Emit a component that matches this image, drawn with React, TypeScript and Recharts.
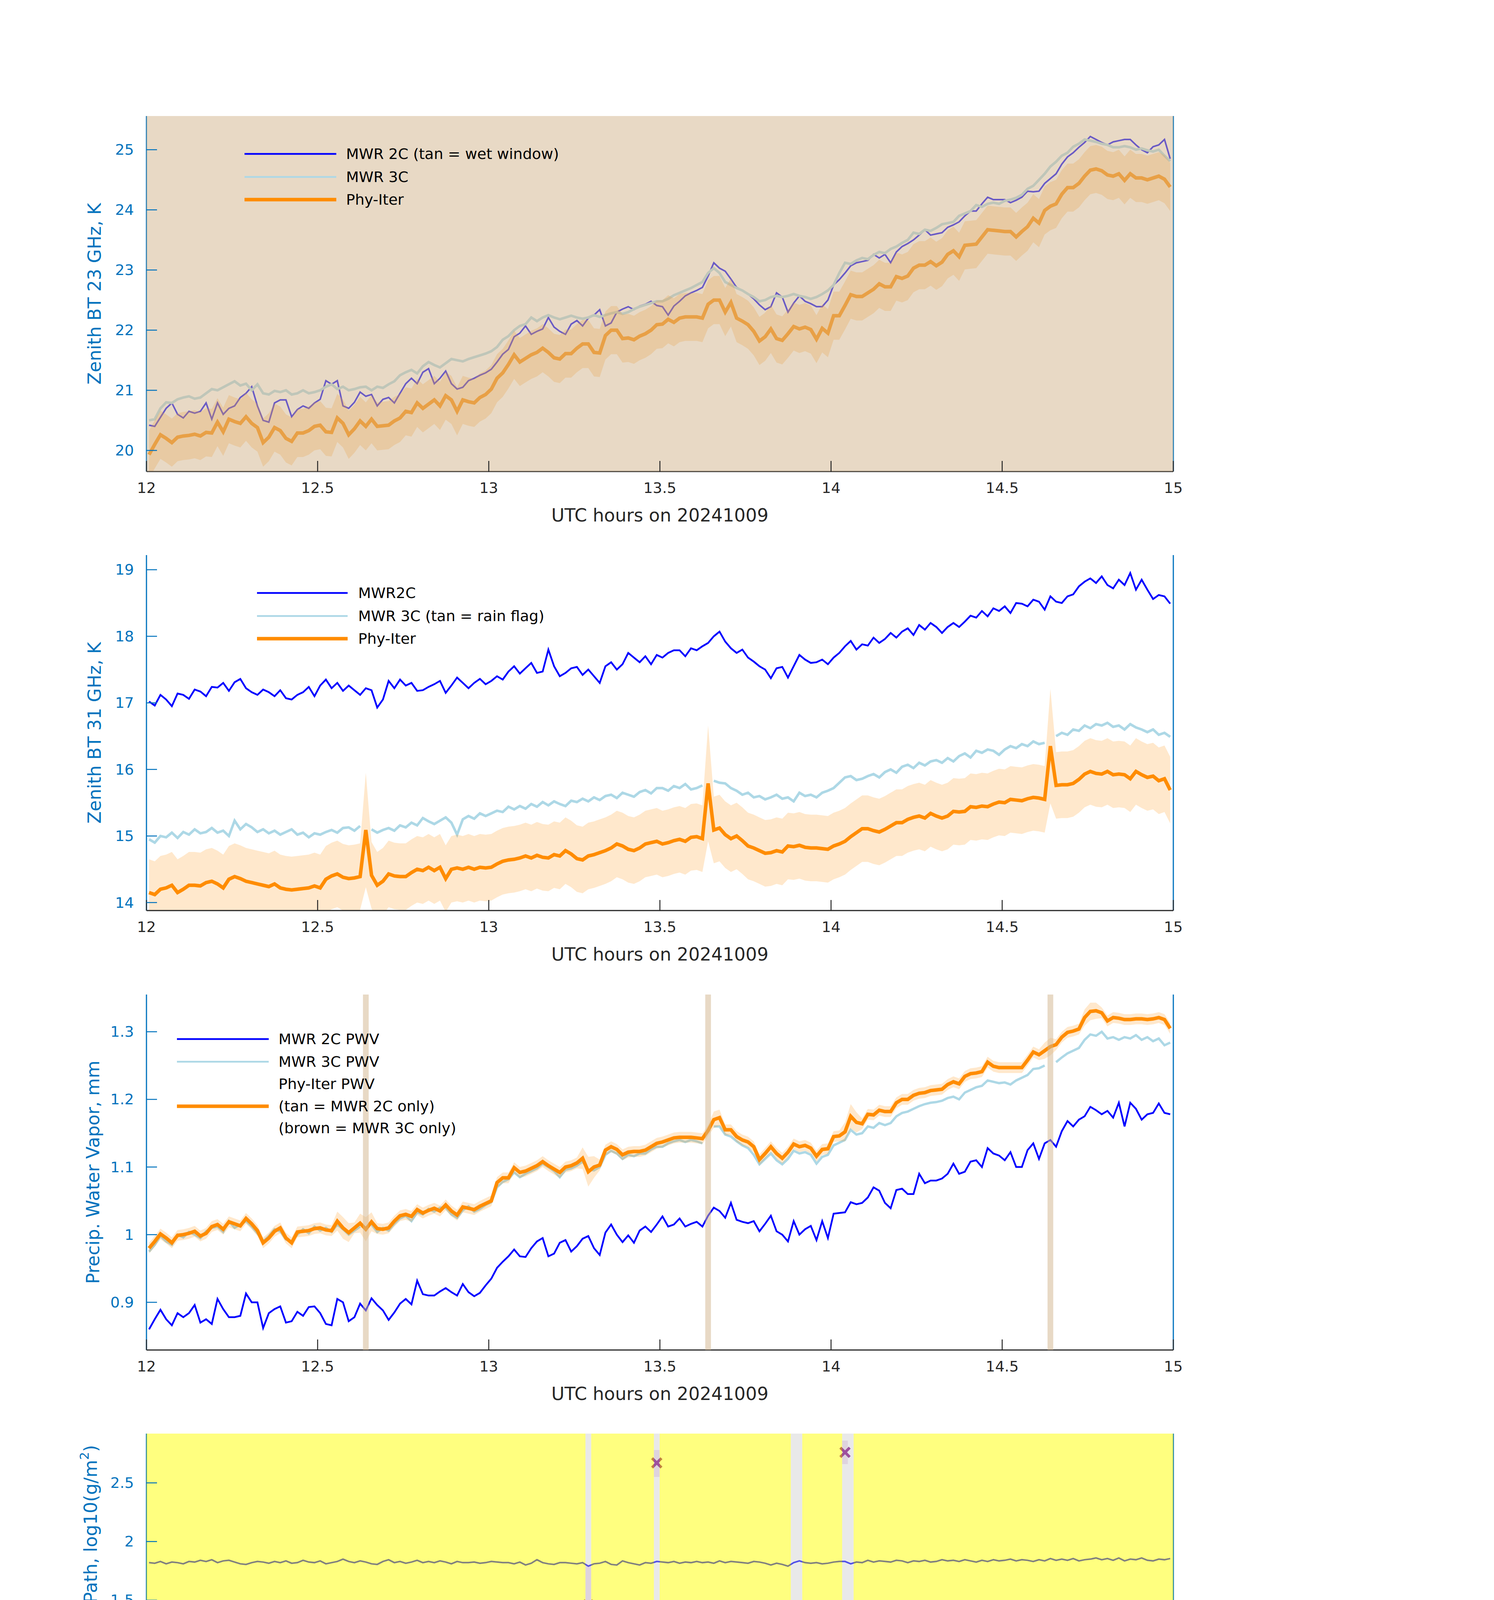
import React from "react";
import {
  Area,
  ComposedChart,
  Line,
  ReferenceArea,
  ReferenceLine,
  Scatter,
  XAxis,
  YAxis,
} from "recharts";

// one sample per minute, 12:00 to 15:00 UTC
const sampleHours = Array.from({ length: 180 }, (_, k) => 12 + (k + 0.45) / 60);
const timeTicks = [12, 12.5, 13, 13.5, 14, 14.5, 15];

// panel 1: zenith BT 23 GHz (K)
const p1Mwr2c = [
  20.42, 20.4, 20.55, 20.7, 20.79, 20.6, 20.54, 20.65, 20.62, 20.65,
  20.79, 20.52, 20.79, 20.6, 20.7, 20.74, 20.88, 20.95, 21.06, 20.74,
  20.5, 20.47, 20.79, 20.84, 20.84, 20.56, 20.68, 20.74, 20.7, 20.79,
  20.85, 21.16, 21.1, 21.16, 20.74, 20.7, 20.8, 20.97, 20.9, 20.93,
  20.74, 20.85, 20.88, 20.79, 20.95, 21.11, 21.2, 21.11, 21.3, 21.36,
  21.11, 21.2, 21.32, 21.11, 21.02, 21.05, 21.16, 21.2, 21.25, 21.29,
  21.35, 21.47, 21.6, 21.68, 21.89, 21.95, 22.07, 21.93, 21.98, 22.02,
  22.21, 22.05, 21.98, 21.93, 22.1, 22.16, 22.07, 22.2, 22.25, 22.34,
  22.07, 22.12, 22.3, 22.35, 22.39, 22.34, 22.4, 22.43, 22.48, 22.41,
  22.39, 22.25, 22.4, 22.48, 22.57, 22.62, 22.66, 22.71, 22.9, 23.12,
  23.03, 22.98, 22.85, 22.71, 22.66, 22.6, 22.52, 22.42, 22.34, 22.39,
  22.62, 22.55, 22.3, 22.45, 22.57, 22.48, 22.44, 22.39, 22.39, 22.5,
  22.75, 22.84, 22.95, 23.07, 23.12, 23.14, 23.16, 23.26, 23.2, 23.26,
  23.12, 23.3, 23.39, 23.44, 23.5, 23.58, 23.67, 23.58, 23.6, 23.62,
  23.71, 23.75, 23.8, 23.9, 23.98, 23.98, 24.1, 24.21, 24.17, 24.17,
  24.17, 24.12, 24.16, 24.21, 24.31, 24.3, 24.31, 24.44, 24.52, 24.6,
  24.76, 24.88, 24.95, 25.04, 25.12, 25.22, 25.17, 25.12, 25.08, 25.13,
  25.15, 25.17, 25.17, 25.08, 25.0, 24.95, 25.05, 25.08, 25.17, 24.85,
];
const p1Mwr3c = [
  20.5, 20.52, 20.7, 20.8, 20.79, 20.85, 20.88, 20.9, 20.86, 20.88,
  20.95, 21.02, 21.0, 21.05, 21.1, 21.15, 21.08, 21.11, 21.0, 21.1,
  20.95, 20.93, 20.99, 20.97, 21.0, 20.93, 20.95, 21.0, 20.95, 20.97,
  21.0, 21.06, 21.1, 21.02, 21.06, 21.0, 21.02, 21.05, 21.06, 21.0,
  21.06, 21.04, 21.1, 21.15, 21.25, 21.3, 21.34, 21.28, 21.4, 21.47,
  21.42, 21.38, 21.45, 21.52, 21.5, 21.48, 21.52, 21.55, 21.58, 21.61,
  21.65, 21.72, 21.84, 21.9, 22.0, 22.07, 22.1, 22.21, 22.15, 22.21,
  22.25, 22.21, 22.18, 22.21, 22.24, 22.21, 22.19, 22.21, 22.25, 22.22,
  22.25, 22.28, 22.3, 22.27, 22.3, 22.35, 22.39, 22.42, 22.45, 22.48,
  22.48, 22.52, 22.58, 22.62, 22.66, 22.7, 22.75, 22.8, 22.95, 23.03,
  22.95, 22.8, 22.75, 22.7, 22.66, 22.6, 22.55, 22.48, 22.5, 22.55,
  22.57, 22.55, 22.57, 22.6, 22.57, 22.55, 22.52, 22.55, 22.6, 22.66,
  22.75, 22.95, 23.12, 23.1, 23.16, 23.2, 23.18, 23.25, 23.3, 23.28,
  23.35, 23.39, 23.45, 23.5, 23.62, 23.6, 23.67, 23.65, 23.7, 23.76,
  23.78, 23.8, 23.9, 23.94, 23.98, 24.08, 24.05, 24.1, 24.12, 24.1,
  24.15, 24.17, 24.2, 24.25, 24.35, 24.4, 24.5, 24.6, 24.72, 24.8,
  24.9, 24.95, 25.05, 25.1, 25.17, 25.15, 25.13, 25.1, 25.08, 25.04,
  25.04, 25.06, 25.04, 25.0, 25.02, 24.99, 24.97, 25.0, 24.9, 24.81,
];
const p1Phy = [
  19.93, 20.1, 20.26, 20.2, 20.13, 20.22, 20.24, 20.25, 20.27, 20.24,
  20.3, 20.29, 20.47, 20.31, 20.52, 20.48, 20.45, 20.56, 20.45, 20.38,
  20.13, 20.22, 20.38, 20.33, 20.2, 20.15, 20.29, 20.29, 20.33, 20.4,
  20.42, 20.31, 20.3, 20.54, 20.45, 20.26, 20.36, 20.49, 20.4, 20.52,
  20.4, 20.41, 20.42, 20.49, 20.54, 20.65, 20.63, 20.79, 20.7, 20.77,
  20.84, 20.74, 20.91, 20.84, 20.65, 20.84, 20.81, 20.79, 20.88, 20.93,
  21.02, 21.2, 21.29, 21.43, 21.59, 21.47, 21.53, 21.59, 21.63, 21.7,
  21.63, 21.54, 21.52, 21.61, 21.61, 21.7, 21.77, 21.77, 21.63, 21.62,
  21.91, 22.0, 22.0, 21.86, 21.87, 21.84, 21.9, 21.94, 22.0, 22.09,
  22.1, 22.18, 22.13, 22.2, 22.22, 22.22, 22.22, 22.2, 22.43, 22.5,
  22.5, 22.3, 22.46, 22.2, 22.15, 22.09, 21.98, 21.82, 21.89, 22.02,
  21.86, 21.83, 21.94, 22.06, 22.02, 22.05, 22.01, 21.85, 22.03, 21.95,
  22.24, 22.24, 22.41, 22.59, 22.56, 22.56, 22.62, 22.68, 22.77, 22.72,
  22.72, 22.89, 22.86, 22.9, 23.03, 23.08, 23.08, 23.14, 23.07, 23.13,
  23.26, 23.32, 23.22, 23.41, 23.42, 23.43, 23.55, 23.67, 23.66, 23.65,
  23.64, 23.64, 23.55, 23.64, 23.72, 23.86, 23.78, 23.99, 24.06, 24.1,
  24.26, 24.37, 24.37, 24.44, 24.56, 24.66, 24.68, 24.65, 24.58, 24.56,
  24.6, 24.49, 24.6, 24.53, 24.53, 24.5, 24.53, 24.56, 24.51, 24.38,
];
const p1Spread = 0.4;
const wetWindow: [number, number] = [12, 15];

// panel 2: zenith BT 31 GHz (K)
const p2Mwr2c = [
  17.02, 16.96, 17.12, 17.05, 16.95, 17.14, 17.12, 17.06, 17.2, 17.17,
  17.1, 17.24, 17.23, 17.3, 17.18, 17.31, 17.36, 17.22, 17.16, 17.12,
  17.2, 17.16, 17.1, 17.19, 17.07, 17.05, 17.12, 17.16, 17.24, 17.1,
  17.26, 17.35, 17.22, 17.3, 17.18, 17.26, 17.19, 17.12, 17.22, 17.19,
  16.93, 17.05, 17.33, 17.22, 17.35, 17.26, 17.3, 17.18, 17.19, 17.24,
  17.28, 17.33, 17.15, 17.26, 17.38, 17.3, 17.22, 17.3, 17.36, 17.28,
  17.33, 17.4, 17.35, 17.47, 17.55, 17.44, 17.52, 17.6, 17.45, 17.47,
  17.8, 17.55, 17.4, 17.45, 17.52, 17.54, 17.42, 17.5, 17.4, 17.3,
  17.55, 17.61, 17.5, 17.58, 17.75, 17.68, 17.61, 17.7, 17.58, 17.72,
  17.68, 17.75, 17.79, 17.79, 17.7, 17.82, 17.79, 17.85, 17.9, 18.0,
  18.07, 17.92, 17.82, 17.75, 17.8, 17.68, 17.62, 17.55, 17.5, 17.37,
  17.52, 17.54, 17.38, 17.55, 17.72, 17.65, 17.6, 17.61, 17.65, 17.58,
  17.68, 17.75, 17.85, 17.93, 17.8, 17.88, 17.86, 17.98, 17.9, 17.96,
  18.05, 17.98, 18.07, 18.12, 18.02, 18.17, 18.1, 18.2, 18.14, 18.05,
  18.14, 18.2, 18.14, 18.22, 18.31, 18.28, 18.38, 18.3, 18.42, 18.38,
  18.45, 18.35, 18.5, 18.49, 18.45, 18.55, 18.52, 18.4, 18.6, 18.52,
  18.5, 18.6, 18.63, 18.75, 18.82, 18.87, 18.8, 18.9, 18.77, 18.72,
  18.85, 18.77, 18.95, 18.7, 18.85, 18.7, 18.56, 18.62, 18.6, 18.49,
];
const p2Mwr3c: (number | null)[] = [
  14.95, 14.9, 15.0, 14.98, 15.05, 14.97, 15.06, 15.02, 15.1, 15.04,
  15.06, 15.12, 15.05, 15.08, 15.0, 15.23, 15.1, 15.18, 15.13, 15.06,
  15.1, 15.04, 15.08, 15.02, 15.06, 15.1, 15.02, 15.05, 14.98, 15.04,
  15.02, 15.06, 15.09, 15.05, 15.12, 15.13, 15.08, 15.15, null, 15.1,
  15.05, 15.09, 15.12, 15.08, 15.16, 15.13, 15.2, 15.16, 15.27, 15.22,
  15.18, 15.23, 15.28, 15.2, 15.02, 15.25, 15.3, 15.26, 15.34, 15.3,
  15.34, 15.38, 15.36, 15.44, 15.4, 15.45, 15.41, 15.48, 15.44, 15.51,
  15.46, 15.52, 15.48, 15.45, 15.53, 15.51, 15.56, 15.52, 15.58, 15.54,
  15.6, 15.62, 15.57, 15.65, 15.62, 15.59, 15.66, 15.69, 15.64, 15.72,
  15.72, 15.68, 15.75, 15.72, 15.78, 15.7, 15.72, 15.76, null, 15.83,
  15.8, 15.79, 15.72, 15.68, 15.62, 15.65, 15.58, 15.6, 15.55, 15.58,
  15.62, 15.56, 15.58, 15.52, 15.65, 15.6, 15.62, 15.58, 15.65, 15.68,
  15.72, 15.8, 15.88, 15.9, 15.84, 15.86, 15.9, 15.93, 15.88, 15.96,
  16.0, 15.95, 16.04, 16.07, 16.02, 16.1, 16.06, 16.12, 16.14, 16.1,
  16.17, 16.12, 16.2, 16.24, 16.18, 16.28, 16.25, 16.3, 16.28, 16.22,
  16.3, 16.35, 16.32, 16.38, 16.35, 16.42, 16.38, 16.4, null, 16.5,
  16.55, 16.52, 16.6, 16.58, 16.66, 16.62, 16.68, 16.66, 16.7, 16.64,
  16.66, 16.6, 16.68, 16.63, 16.6, 16.56, 16.6, 16.52, 16.55, 16.49,
];
const p2Phy = [
  14.15, 14.12, 14.2, 14.22, 14.26, 14.15, 14.2, 14.26, 14.26, 14.25,
  14.3, 14.32, 14.28, 14.22, 14.35, 14.39, 14.36, 14.32, 14.3, 14.28,
  14.26, 14.24, 14.28, 14.22, 14.2, 14.19, 14.2, 14.21, 14.22, 14.25,
  14.22, 14.35, 14.4, 14.43, 14.38, 14.36, 14.37, 14.39, 15.09, 14.41,
  14.26, 14.32, 14.43, 14.4, 14.39, 14.39, 14.45, 14.5, 14.48, 14.53,
  14.48, 14.53, 14.36, 14.5, 14.52, 14.5, 14.53, 14.5, 14.53, 14.52,
  14.53, 14.58, 14.62, 14.64, 14.65, 14.67, 14.7, 14.67, 14.71, 14.68,
  14.67, 14.72, 14.7, 14.78, 14.73, 14.66, 14.64, 14.7, 14.72, 14.75,
  14.78, 14.82, 14.88, 14.85, 14.8, 14.78, 14.82, 14.88, 14.9, 14.92,
  14.88, 14.9, 14.93, 14.95, 14.92, 14.98, 14.99, 14.96, 15.79, 15.09,
  15.12, 15.02, 14.96, 15.0, 14.93, 14.85, 14.82, 14.78, 14.74, 14.75,
  14.78, 14.76, 14.85, 14.84, 14.86, 14.83, 14.82, 14.82, 14.81, 14.8,
  14.85, 14.88, 14.92, 14.99, 15.05, 15.11, 15.11, 15.08, 15.06, 15.1,
  15.15, 15.2, 15.2, 15.25, 15.28, 15.3, 15.27, 15.34, 15.3, 15.27,
  15.3, 15.37, 15.36, 15.37, 15.44, 15.43, 15.45, 15.44, 15.48, 15.51,
  15.5, 15.55, 15.54, 15.53, 15.56, 15.58, 15.57, 15.55, 16.35, 15.76,
  15.77, 15.77, 15.79, 15.85, 15.93, 15.97, 15.94, 15.93, 15.97, 15.92,
  15.93, 15.92, 15.86, 15.97, 15.92, 15.88, 15.9, 15.83, 15.86, 15.69,
];
const p2Spread = 0.5;
const p2SpreadWide: Record<number, number> = { 38: 0.86, 98: 0.87, 158: 0.86 };

// panel 3: precipitable water vapour (mm)
const p3Mwr2c = [
  0.86, 0.875, 0.889, 0.875, 0.866, 0.884, 0.878, 0.884, 0.896, 0.87,
  0.875, 0.868, 0.905, 0.89, 0.878, 0.878, 0.88, 0.913, 0.9, 0.9,
  0.862, 0.884, 0.89, 0.894, 0.87, 0.872, 0.886, 0.88, 0.893, 0.894,
  0.884, 0.868, 0.866, 0.905, 0.9, 0.872, 0.878, 0.898, 0.888, 0.906,
  0.896, 0.888, 0.874, 0.885, 0.898, 0.905, 0.897, 0.932, 0.912, 0.91,
  0.91, 0.916, 0.921, 0.915, 0.91, 0.927, 0.915, 0.909, 0.914, 0.925,
  0.935, 0.951, 0.96, 0.968, 0.978, 0.968, 0.967, 0.98, 0.99, 0.995,
  0.968, 0.972, 0.988, 0.992, 0.975, 0.983, 0.994, 0.998, 0.98, 0.97,
  1.003, 1.015, 1.0, 0.989, 0.999, 0.988, 1.006, 1.012, 1.004, 1.015,
  1.027, 1.012, 1.015, 1.024, 1.012, 1.016, 1.019, 1.012, 1.028, 1.04,
  1.035, 1.025, 1.047, 1.022, 1.019, 1.017, 1.02, 1.005, 1.016, 1.028,
  1.005, 1.0, 0.99, 1.02, 1.0, 1.008, 1.013, 0.992, 1.02, 0.995,
  1.031, 1.032, 1.033, 1.048, 1.045, 1.047, 1.055, 1.07, 1.065, 1.047,
  1.039, 1.066, 1.068, 1.06, 1.06, 1.09, 1.076, 1.08, 1.08, 1.083,
  1.09, 1.105, 1.09, 1.093, 1.108, 1.11, 1.1, 1.128, 1.12, 1.117,
  1.11, 1.122, 1.1, 1.1, 1.125, 1.135, 1.112, 1.135, 1.14, 1.13,
  1.153, 1.168, 1.16, 1.17, 1.175, 1.189, 1.184, 1.178, 1.183, 1.173,
  1.195, 1.16, 1.195, 1.186, 1.17, 1.178, 1.18, 1.194, 1.18, 1.178,
];
const p3Mwr3c: (number | null)[] = [
  0.975, 0.985, 0.998, 0.99, 0.985, 1.0, 0.996, 1.004, 1.0, 0.995,
  1.005, 1.01, 1.012, 1.004, 1.02, 1.01, 1.015, 1.02, 1.012, 1.002,
  0.99, 0.998, 1.008, 1.005, 0.993, 0.99, 1.0, 1.008, 1.002, 1.012,
  1.006, 1.01, 1.004, 1.015, 1.008, 1.0, 1.006, 1.012, null, 1.015,
  1.004, 1.01, 1.006, 1.016, 1.024, 1.028, 1.02, 1.033, 1.03, 1.038,
  1.034, 1.04, 1.04, 1.03, 1.025, 1.036, 1.042, 1.034, 1.038, 1.044,
  1.048, 1.07, 1.078, 1.082, 1.092, 1.085, 1.09, 1.094, 1.098, 1.105,
  1.1, 1.094, 1.085, 1.096, 1.098, 1.102, 1.108, 1.096, 1.095, 1.1,
  1.118, 1.124, 1.12, 1.112, 1.118, 1.116, 1.12, 1.12, 1.126, 1.13,
  1.13, 1.135, 1.138, 1.14, 1.137, 1.14, 1.138, 1.135, null, 1.16,
  1.16, 1.148, 1.145, 1.138, 1.132, 1.128, 1.118, 1.104, 1.112, 1.12,
  1.11, 1.104, 1.112, 1.124, 1.12, 1.122, 1.118, 1.105, 1.115, 1.118,
  1.132, 1.136, 1.14, 1.155, 1.148, 1.15, 1.16, 1.158, 1.165, 1.162,
  1.165, 1.175, 1.18, 1.182, 1.186, 1.19, 1.193, 1.195, 1.196, 1.198,
  1.202, 1.204, 1.2, 1.21, 1.214, 1.218, 1.22, 1.228, 1.226, 1.224,
  1.225, 1.222, 1.228, 1.232, 1.236, 1.245, 1.246, 1.25, null, 1.255,
  1.262, 1.268, 1.272, 1.276, 1.288, 1.296, 1.294, 1.3, 1.29, 1.292,
  1.288, 1.292, 1.29, 1.295, 1.288, 1.292, 1.286, 1.29, 1.28, 1.284,
];
const p3Phy = [
  0.98, 0.99, 1.001, 0.995, 0.988, 0.999, 1.0, 1.002, 1.005, 0.998,
  1.002, 1.012, 1.015, 1.008, 1.019, 1.016, 1.013, 1.024, 1.016, 1.006,
  0.988, 0.995, 1.005, 1.01, 0.995, 0.988, 1.004, 1.005, 1.006, 1.009,
  1.01, 1.007, 1.006, 1.02, 1.01, 1.003, 1.01, 1.017, 1.008, 1.019,
  1.009, 1.008, 1.01, 1.02, 1.028, 1.03, 1.027, 1.037, 1.032, 1.036,
  1.039, 1.035, 1.044, 1.035, 1.029, 1.041, 1.039, 1.037, 1.042, 1.046,
  1.05, 1.077, 1.084, 1.084, 1.099, 1.092, 1.094, 1.098, 1.102, 1.108,
  1.102, 1.097, 1.092, 1.1, 1.102, 1.106, 1.113, 1.093, 1.1, 1.103,
  1.125, 1.13, 1.126, 1.118, 1.122, 1.123, 1.123, 1.125, 1.13, 1.135,
  1.137, 1.14, 1.143, 1.144, 1.144, 1.144, 1.143, 1.142, 1.154, 1.17,
  1.173, 1.155, 1.155, 1.145, 1.14, 1.137, 1.13, 1.111, 1.12, 1.13,
  1.12, 1.113, 1.122, 1.134, 1.13, 1.132, 1.128, 1.116, 1.126, 1.127,
  1.145, 1.146, 1.152, 1.175, 1.166, 1.164, 1.178, 1.177, 1.184, 1.182,
  1.182, 1.195, 1.2, 1.2, 1.206, 1.209, 1.21, 1.213, 1.214, 1.215,
  1.222, 1.226, 1.223, 1.234, 1.238, 1.239, 1.241, 1.255, 1.249, 1.247,
  1.247, 1.247, 1.247, 1.247, 1.258, 1.27, 1.266, 1.272, 1.278, 1.281,
  1.292, 1.299, 1.301, 1.304, 1.321, 1.33, 1.331, 1.328, 1.316, 1.321,
  1.32, 1.318, 1.318, 1.319, 1.319, 1.318, 1.319, 1.321, 1.318, 1.305,
];
const p3Spread = 0.008;
const p3SpreadWide: Record<number, number> = {
  33: 0.014, 34: 0.016, 35: 0.014, 37: 0.014, 38: 0.018, 39: 0.014,
  76: 0.016, 77: 0.022, 78: 0.016, 99: 0.012, 100: 0.012,
  122: 0.014, 123: 0.018, 124: 0.015, 157: 0.012, 158: 0.013,
  164: 0.012, 165: 0.013, 166: 0.012,
};

// panel 4: log10 liquid water path
const p4Mwr2c = [
  1.82, 1.815, 1.83, 1.81, 1.825, 1.82, 1.81, 1.83, 1.825, 1.84,
  1.83, 1.845, 1.82, 1.835, 1.84, 1.825, 1.81, 1.805, 1.82, 1.83,
  1.825, 1.815, 1.83, 1.82, 1.835, 1.815, 1.82, 1.84, 1.825, 1.82,
  1.835, 1.81, 1.82, 1.83, 1.85, 1.83, 1.82, 1.835, 1.825, 1.81,
  1.805, 1.83, 1.845, 1.82, 1.83, 1.815, 1.825, 1.84, 1.82, 1.83,
  1.82, 1.835, 1.825, 1.81, 1.83, 1.82, 1.82, 1.825, 1.815, 1.82,
  1.83, 1.825, 1.82, 1.82, 1.81, 1.825, 1.8, 1.815, 1.845, 1.82,
  1.81, 1.805, 1.82, 1.82, 1.815, 1.81, 1.82, 1.79, 1.81, 1.815,
  1.83, 1.805, 1.8, 1.835, 1.82, 1.81, 1.8, 1.82, 1.815, 1.83,
  1.825, 1.82, 1.83, 1.815, 1.825, 1.82, 1.83, 1.82, 1.825, 1.815,
  1.835, 1.82, 1.83, 1.825, 1.82, 1.815, 1.83, 1.825, 1.815, 1.8,
  1.815, 1.805, 1.79, 1.82, 1.835, 1.82, 1.815, 1.82, 1.81, 1.815,
  1.825, 1.83, 1.83, 1.81, 1.825, 1.82, 1.84, 1.825, 1.835, 1.83,
  1.825, 1.84, 1.835, 1.82, 1.835, 1.83, 1.84, 1.825, 1.83, 1.845,
  1.835, 1.84, 1.83, 1.845, 1.835, 1.825, 1.84, 1.83, 1.845, 1.835,
  1.84, 1.85, 1.835, 1.845, 1.84, 1.83, 1.845, 1.835, 1.855, 1.84,
  1.85, 1.84, 1.855, 1.835, 1.845, 1.85, 1.86, 1.845, 1.855, 1.84,
  1.86, 1.835, 1.85, 1.845, 1.86, 1.84, 1.835, 1.85, 1.845, 1.855,
];
const p4Mwr3c: (number | null)[] = [
  1.04, 1.07, 1.02, 1.06, 1.03, 1.08, 1.05, 1.01, 1.06, 1.04,
  1.09, 1.03, 1.06, 1.02, 1.07, 1.04, 0.99, 1.05, 1.08, 1.04,
  1.06, 1.02, 1.05, 1.03, 1.07, 1.0, 1.04, 1.06, 1.01, 1.03,
  1.05, 1.02, 1.06, 1.04, 1.01, 1.05, 1.03, 1.06, null, 1.04,
  1.07, 1.03, 1.05, 1.02, 1.08, 1.04, 1.06, 1.03, 1.07, 1.05,
  1.02, 1.06, 1.04, 1.07, 0.98, 1.05, 1.03, 1.06, 1.02, 1.08,
  1.04, 0.97, 1.03, 1.06, 1.05, 1.08, 1.03, 1.06, 1.04, 1.07,
  1.05, 1.08, 1.04, 1.06, 1.02, 1.07, 1.05, 1.06, 1.08, 1.04,
  1.06, 1.03, 1.07, 1.04, 1.06, 1.02, 1.05, 1.07, 1.04, 1.08,
  1.05, 1.03, 1.06, 1.04, 1.07, 1.02, 1.05, 1.04, null, 1.05,
  1.07, 1.03, 1.06, 1.02, 1.05, 0.97, 1.03, 1.06, 1.0, 1.04,
  1.06, 1.02, 0.98, 1.04, 0.95, 1.01, 1.05, 1.03, 1.07, 1.04,
  1.08, 1.06, 1.1, 1.07, 1.12, 1.09, 1.14, 1.1, 1.13, 1.16,
  1.11, 1.15, 1.12, 1.14, 1.1, 1.13, 1.16, 1.12, 1.15, 1.08,
  1.12, 1.14, 1.11, 1.15, 1.13, 1.16, 1.12, 1.14, 1.17, 1.13,
  1.15, 1.12, 1.16, 1.14, 1.17, 1.13, 1.15, 1.12, null, 1.18,
  1.2, 1.17, 1.22, 1.19, 1.21, 1.18, 1.2, 1.16, 1.19, 1.17,
  1.18, 1.15, 1.19, 1.16, 1.18, 1.14, 1.17, 1.15, 1.18, 1.16,
];
const lwpEventIdx = [77, 89, 122];
const adiabaticLwp = [1.46, 2.67, 2.76];
const adiabaticLo = [0.84, 2.55, 2.66];
const adiabaticHi = [1.8, 2.78, 2.86];
const phyIterLwp = [0.91, 0.47, -0.14];
const phyIterLo = [-0.5, -0.5, -0.5];
const phyIterHi = [1.1, 1.29, 1.27];

// panel 5: Phy-Iter data quality flag
const dqFlag = [
  5, 5, 5, 5, 5, 5, 5, 5, 5, 5, 5, 5, 5, 5, 5, 5, 5, 5, 5, 5,
  5, 5, 5, 5, 5, 5, 5, 5, 5, 5, 5, 5, 5, 5, 5, 5, 5, 5, 5, 5,
  5, 5, 5, 5, 5, 5, 5, 5, 5, 5, 5, 5, 5, 5, 5, 5, 5, 5, 5, 5,
  5, 5, 5, 5, 5, 5, 5, 5, 5, 5, 5, 5, 5, 5, 5, 5, 5, 4, 5, 5,
  5, 5, 5, 5, 5, 5, 5, 5, 5, 4, 5, 5, 5, 5, 5, 5, 5, 5, 5, 5,
  5, 5, 5, 5, 5, 5, 5, 5, 5, 5, 5, 5, 5, 3, 3, 5, 5, 5, 5, 5,
  5, 5, 4, 3, 5, 5, 5, 5, 5, 5, 5, 5, 5, 5, 5, 5, 5, 5, 5, 5,
  5, 5, 5, 5, 5, 5, 5, 5, 5, 5, 5, 5, 5, 5, 5, 5, 5, 5, 5, 5,
  5, 5, 5, 5, 5, 5, 5, 5, 5, 5, 5, 5, 5, 5, 5, 5, 5, 5, 5, 5,
];

// ---- layout and style
const FONT = "DejaVu Sans";
const AXIS_BLUE = "#0072BD";
const AXIS_DARK = "#262626";
const BLUE = "#0000ff";
const LIGHTBLUE = "#add8e6";
const ORANGE = "#ff8c00";
const PURPLE = "#800080";
const TAN = "#d2b48c";
const YELLOW = "#ffff00";
const GRAY = "#c8c8c8";

const PAGE_W = 3825;
const PAGE_H = 6000;
const PLOT_L = 375;
const PLOT_R = 3004;
const PLOT_H = 910;
const PANEL_TOPS = [297, 1421, 2546, 3670, 4795];
const CHART_H = 1124;
const MARGIN_T = 100;
const Y_AXIS_W = 80;
const X_AXIS_H = 60;
const TICK_LEN = 27;
const TICK_FONT = 38;
const LABEL_FONT = 46;
const HALF_SAMPLE = 0.5 / 60;

const rows = sampleHours.map((t, k) => {
  const s2 = p2SpreadWide[k] ?? p2Spread;
  const s3 = p3SpreadWide[k] ?? p3Spread;
  return {
    t,
    p1a: p1Mwr2c[k],
    p1b: p1Mwr3c[k],
    p1c: p1Phy[k],
    p1band: [p1Phy[k] - p1Spread, p1Phy[k] + p1Spread],
    p2a: p2Mwr2c[k],
    p2b: p2Mwr3c[k],
    p2c: p2Phy[k],
    p2band: [p2Phy[k] - s2, p2Phy[k] + s2],
    p3a: p3Mwr2c[k],
    p3b: p3Mwr3c[k],
    p3c: p3Phy[k],
    p3band: [p3Phy[k] - s3, p3Phy[k] + s3],
    p4a: p4Mwr2c[k],
    p4b: p4Mwr3c[k],
  };
});

function runsToSpans(idx: number[]): [number, number][] {
  const runs: [number, number][] = [];
  idx.forEach((k) => {
    const last = runs[runs.length - 1];
    if (last && k === last[1] + 1) last[1] = k;
    else runs.push([k, k]);
  });
  return runs.map(([a, b]) => [sampleHours[a] - HALF_SAMPLE, sampleHours[b] + HALF_SAMPLE]);
}

// grey = flagged Phy-Iter samples, tan = MWR 2C only (3C missing)
const dqBars = runsToSpans(dqFlag.map((f, k) => (f !== 5 ? k : -1)).filter((k) => k >= 0));
const only2cBars = runsToSpans(p3Mwr3c.map((v, k) => (v === null ? k : -1)).filter((k) => k >= 0));
const yellowSpans: [number, number][] = [];
{
  let start = 12;
  dqBars.forEach(([a, b]) => {
    yellowSpans.push([start, a]);
    start = b;
  });
  yellowSpans.push([start, 15]);
}

const adiabaticPts = lwpEventIdx.map((k, i) => ({ t: sampleHours[k], v: adiabaticLwp[i] }));
const phyIterPts = lwpEventIdx.map((k, i) => ({ t: sampleHours[k], v: phyIterLwp[i] }));
const dqPts = sampleHours.map((t, k) => ({ t, flag: dqFlag[k] }));

const fmt = (v: number) => String(v);

const renderXTick = (props: any) => {
  const { x, y, payload } = props;
  return (
    <g>
      <line x1={x} x2={x} y1={y} y2={y - TICK_LEN} stroke={AXIS_DARK} strokeWidth={2.5} />
      <text x={x} y={y + 55} textAnchor="middle" fill={AXIS_DARK} fontSize={TICK_FONT} fontFamily={FONT}>
        {fmt(payload.value)}
      </text>
    </g>
  );
};

const renderYTick = (props: any) => {
  const { x, y, payload } = props;
  return (
    <g>
      <line x1={x} x2={x + TICK_LEN} y1={y} y2={y} stroke={AXIS_BLUE} strokeWidth={2.5} />
      <text x={x - 32} y={y} textAnchor="end" dominantBaseline="central" fill={AXIS_BLUE} fontSize={TICK_FONT} fontFamily={FONT}>
        {fmt(payload.value)}
      </text>
    </g>
  );
};

const xMark = (color: string, size: number, width: number) => (props: any) => {
  const { cx, cy } = props;
  if (cx == null || cy == null) return <g />;
  const h = size / 2;
  return (
    <g>
      <line x1={cx - h} y1={cy - h} x2={cx + h} y2={cy + h} stroke={color} strokeWidth={width} />
      <line x1={cx - h} y1={cy + h} x2={cx + h} y2={cy - h} stroke={color} strokeWidth={width} />
    </g>
  );
};

const dotMark = (props: any) => {
  const { cx, cy } = props;
  if (cx == null || cy == null) return <g />;
  return <circle cx={cx} cy={cy} r={4.5} fill={ORANGE} />;
};

function axes(domain: [number, number], ticks: number[]) {
  return [
    <XAxis
      key="x"
      dataKey="t"
      type="number"
      domain={[12, 15]}
      ticks={timeTicks}
      allowDataOverflow
      interval={0}
      height={X_AXIS_H}
      tickSize={0}
      tickMargin={0}
      tickLine={false}
      axisLine={{ stroke: AXIS_DARK, strokeWidth: 3 }}
      tick={renderXTick}
    />,
    <YAxis
      key="y"
      type="number"
      domain={domain}
      ticks={ticks}
      allowDataOverflow
      interval={0}
      width={Y_AXIS_W}
      tickSize={0}
      tickMargin={0}
      tickLine={false}
      axisLine={{ stroke: AXIS_BLUE, strokeWidth: 3 }}
      tick={renderYTick}
    />,
  ];
}

const rightEdge = (
  <ReferenceLine x={15} stroke={AXIS_BLUE} strokeWidth={3} ifOverflow="visible" zIndex={460} />
);

function Panel({ index, children }: { index: number; children: React.ReactNode }) {
  return (
    <div style={{ position: "absolute", left: 0, top: PANEL_TOPS[index] - MARGIN_T }}>
      <ComposedChart
        width={PAGE_W}
        height={CHART_H}
        data={rows}
        margin={{
          top: MARGIN_T,
          right: PAGE_W - PLOT_R,
          bottom: CHART_H - MARGIN_T - PLOT_H - X_AXIS_H,
          left: PLOT_L - Y_AXIS_W,
        }}
      >
        {children}
      </ComposedChart>
    </div>
  );
}

function LegendRow({ x1, x2, y, color, width, marker }: { x1: number; x2: number; y: number; color: string; width: number; marker?: boolean }) {
  const mx = (x1 + x2) / 2;
  return (
    <g>
      <line x1={x1} x2={x2} y1={y} y2={y} stroke={color} strokeWidth={width} />
      {marker && (
        <g>
          <line x1={mx - 11} y1={y - 11} x2={mx + 11} y2={y + 11} stroke={color} strokeWidth={7} />
          <line x1={mx - 11} y1={y + 11} x2={mx + 11} y2={y - 11} stroke={color} strokeWidth={7} />
        </g>
      )}
    </g>
  );
}

function LegendText({ x, y, children }: { x: number; y: number; children: React.ReactNode }) {
  return (
    <text x={x} y={y} dominantBaseline="central" fontSize={TICK_FONT} fontFamily={FONT} fill="#000">
      {children}
    </text>
  );
}

function Annotations() {
  const mid = (i: number) => PANEL_TOPS[i] + PLOT_H / 2;
  const xLabelY = (i: number) => PANEL_TOPS[i] + PLOT_H + 128;
  const yLabels = [
    { x: 242, text: "Zenith BT 23 GHz, K" },
    { x: 242, text: "Zenith BT 31 GHz, K" },
    { x: 238, text: "Precip. Water Vapor, mm" },
    { x: 232, text: null },
    { x: 242, text: "MWR Phy Iter DQ Flag" },
  ];
  const cx = (PLOT_L + PLOT_R) / 2;
  const t1 = PANEL_TOPS[0];
  const t2 = PANEL_TOPS[1];
  const t3 = PANEL_TOPS[2];
  const t4 = PANEL_TOPS[3];
  return (
    <svg
      width={PAGE_W}
      height={PAGE_H}
      style={{ position: "absolute", left: 0, top: 0, pointerEvents: "none" }}
    >
      {PANEL_TOPS.map((_, i) => (
        <text key={`xl${i}`} x={cx} y={xLabelY(i)} textAnchor="middle" fontSize={LABEL_FONT} fontFamily={FONT} fill={AXIS_DARK}>
          UTC hours on 20241009
        </text>
      ))}
      {yLabels.map((l, i) => (
        <text
          key={`yl${i}`}
          x={l.x}
          y={mid(i)}
          transform={`rotate(-90 ${l.x} ${mid(i)})`}
          textAnchor="middle"
          dominantBaseline="central"
          fontSize={LABEL_FONT}
          fontFamily={FONT}
          fill={AXIS_BLUE}
        >
          {l.text ?? (
            <>
              <tspan>log10 Liquid Water Path, log10(g/m</tspan>
              <tspan dy={-16} fontSize={32}>2</tspan>
              <tspan dy={16}>)</tspan>
            </>
          )}
        </text>
      ))}

      {/* panel 1 legend */}
      <LegendRow x1={626} x2={861} y={t1 + 97} color={BLUE} width={4.5} />
      <LegendRow x1={626} x2={861} y={t1 + 156} color={LIGHTBLUE} width={4.5} />
      <LegendRow x1={626} x2={861} y={t1 + 214} color={ORANGE} width={9} />
      <LegendText x={886} y={t1 + 97}>MWR 2C (tan = wet window)</LegendText>
      <LegendText x={886} y={t1 + 156}>MWR 3C</LegendText>
      <LegendText x={886} y={t1 + 214}>Phy-Iter</LegendText>

      {/* panel 2 legend */}
      <LegendRow x1={658} x2={890} y={t2 + 97} color={BLUE} width={4.5} />
      <LegendRow x1={658} x2={890} y={t2 + 156} color={LIGHTBLUE} width={4.5} />
      <LegendRow x1={658} x2={890} y={t2 + 214} color={ORANGE} width={9} />
      <LegendText x={917} y={t2 + 97}>MWR2C</LegendText>
      <LegendText x={917} y={t2 + 156}>MWR 3C (tan = rain flag)</LegendText>
      <LegendText x={917} y={t2 + 214}>Phy-Iter</LegendText>

      {/* panel 3 legend */}
      <LegendRow x1={453} x2={688} y={t3 + 114} color={BLUE} width={4.5} />
      <LegendRow x1={453} x2={688} y={t3 + 172} color={LIGHTBLUE} width={4.5} />
      <LegendRow x1={453} x2={688} y={t3 + 286} color={ORANGE} width={9} />
      <LegendText x={713} y={t3 + 114}>MWR 2C PWV</LegendText>
      <LegendText x={713} y={t3 + 172}>MWR 3C PWV</LegendText>
      <LegendText x={713} y={t3 + 229}>Phy-Iter PWV</LegendText>
      <LegendText x={713} y={t3 + 286}>(tan = MWR 2C only)</LegendText>
      <LegendText x={713} y={t3 + 342}>(brown = MWR 3C only)</LegendText>

      {/* panel 4 legend */}
      <LegendRow x1={2300} x2={2534} y={t4 + 664} color={BLUE} width={4.5} />
      <LegendRow x1={2300} x2={2534} y={t4 + 721} color={LIGHTBLUE} width={4.5} />
      <LegendRow x1={2300} x2={2534} y={t4 + 778} color={ORANGE} width={9} marker />
      <LegendRow x1={2300} x2={2534} y={t4 + 836} color={PURPLE} width={4.5} marker />
      <LegendText x={2560} y={t4 + 664}>MWR 2C LWP</LegendText>
      <LegendText x={2560} y={t4 + 721}>MWR 3C LWP</LegendText>
      <LegendText x={2560} y={t4 + 778}>Phy-Iter LWP</LegendText>
      <LegendText x={2560} y={t4 + 836}>Adiabatic LWP</LegendText>
    </svg>
  );
}

export default function App() {
  return (
    <div style={{ position: "relative", width: PAGE_W, height: PAGE_H, background: "#fff", fontFamily: FONT }}>
      <style>{"body{margin:0;background:#fff}"}</style>

      <Panel index={0}>
        {axes([19.65, 25.56], [20, 21, 22, 23, 24, 25])}
        <Line dataKey="p1a" stroke={BLUE} strokeWidth={4} dot={false} isAnimationActive={false} zIndex={410} />
        <Line dataKey="p1b" stroke={LIGHTBLUE} strokeWidth={6.5} dot={false} isAnimationActive={false} zIndex={420} />
        <Area dataKey="p1band" stroke="none" fill={ORANGE} fillOpacity={0.27} isAnimationActive={false} zIndex={430} />
        <Line dataKey="p1c" stroke={ORANGE} strokeWidth={9} dot={false} isAnimationActive={false} zIndex={440} />
        {rightEdge}
        <ReferenceArea x1={wetWindow[0]} x2={wetWindow[1]} fill={TAN} fillOpacity={0.5} stroke="none" ifOverflow="hidden" zIndex={1500} />
      </Panel>

      <Panel index={1}>
        {axes([13.88, 19.22], [14, 15, 16, 17, 18, 19])}
        <Line dataKey="p2a" stroke={BLUE} strokeWidth={4.5} dot={false} isAnimationActive={false} zIndex={410} />
        <Line dataKey="p2b" stroke={LIGHTBLUE} strokeWidth={6.5} dot={false} isAnimationActive={false} zIndex={420} />
        <Area dataKey="p2band" stroke="none" fill={ORANGE} fillOpacity={0.2} isAnimationActive={false} zIndex={430} />
        <Line dataKey="p2c" stroke={ORANGE} strokeWidth={9} dot={false} isAnimationActive={false} zIndex={440} />
        {rightEdge}
      </Panel>

      <Panel index={2}>
        {axes([0.8295, 1.355], [0.9, 1, 1.1, 1.2, 1.3])}
        <Line dataKey="p3a" stroke={BLUE} strokeWidth={4.5} dot={false} isAnimationActive={false} zIndex={410} />
        <Line dataKey="p3b" stroke={LIGHTBLUE} strokeWidth={6} dot={false} isAnimationActive={false} zIndex={420} />
        <Area dataKey="p3band" stroke="none" fill={ORANGE} fillOpacity={0.2} isAnimationActive={false} zIndex={430} />
        <Line dataKey="p3c" stroke={ORANGE} strokeWidth={9} dot={false} isAnimationActive={false} zIndex={440} />
        {rightEdge}
        {only2cBars.map(([a, b], i) => (
          <ReferenceArea key={`tan${i}`} x1={a} x2={b} fill={TAN} fillOpacity={0.5} stroke="none" ifOverflow="hidden" zIndex={1500} />
        ))}
      </Panel>

      <Panel index={3}>
        {axes([-0.11, 2.92], [0, 0.5, 1, 1.5, 2, 2.5])}
        <Line dataKey="p4a" stroke={BLUE} strokeWidth={4} dot={false} isAnimationActive={false} zIndex={410} />
        <Line dataKey="p4b" stroke={LIGHTBLUE} strokeWidth={6.5} dot={false} isAnimationActive={false} zIndex={420} />
        {lwpEventIdx.map((k, i) => (
          <ReferenceArea key={`ae${i}`} x1={sampleHours[k] - HALF_SAMPLE} x2={sampleHours[k] + HALF_SAMPLE} y1={adiabaticLo[i]} y2={adiabaticHi[i]} fill={PURPLE} fillOpacity={0.14} stroke="none" ifOverflow="hidden" zIndex={445} />
        ))}
        {lwpEventIdx.map((k, i) => (
          <ReferenceArea key={`pe${i}`} x1={sampleHours[k] - HALF_SAMPLE} x2={sampleHours[k] + HALF_SAMPLE} y1={phyIterLo[i]} y2={phyIterHi[i]} fill={ORANGE} fillOpacity={0.16} stroke="none" ifOverflow="hidden" zIndex={446} />
        ))}
        <Scatter data={phyIterPts} dataKey="v" shape={xMark(ORANGE, 24, 7)} isAnimationActive={false} zIndex={450} />
        <Scatter data={adiabaticPts} dataKey="v" shape={xMark(PURPLE, 24, 7)} isAnimationActive={false} zIndex={451} />
        {rightEdge}
        {yellowSpans.map(([a, b], i) => (
          <ReferenceArea key={`yl${i}`} x1={a} x2={b} fill={YELLOW} fillOpacity={0.5} stroke="none" ifOverflow="hidden" zIndex={1500} />
        ))}
        {dqBars.map(([a, b], i) => (
          <ReferenceArea key={`gr${i}`} x1={a} x2={b} fill={GRAY} fillOpacity={0.4} stroke="none" ifOverflow="hidden" zIndex={1500} />
        ))}
      </Panel>

      <Panel index={4}>
        {axes([-0.5, 11.5], [0, 2, 4, 6, 8, 10])}
        <Scatter data={dqPts} dataKey="flag" shape={dotMark} isAnimationActive={false} zIndex={450} />
        {rightEdge}
      </Panel>

      <Annotations />
    </div>
  );
}
